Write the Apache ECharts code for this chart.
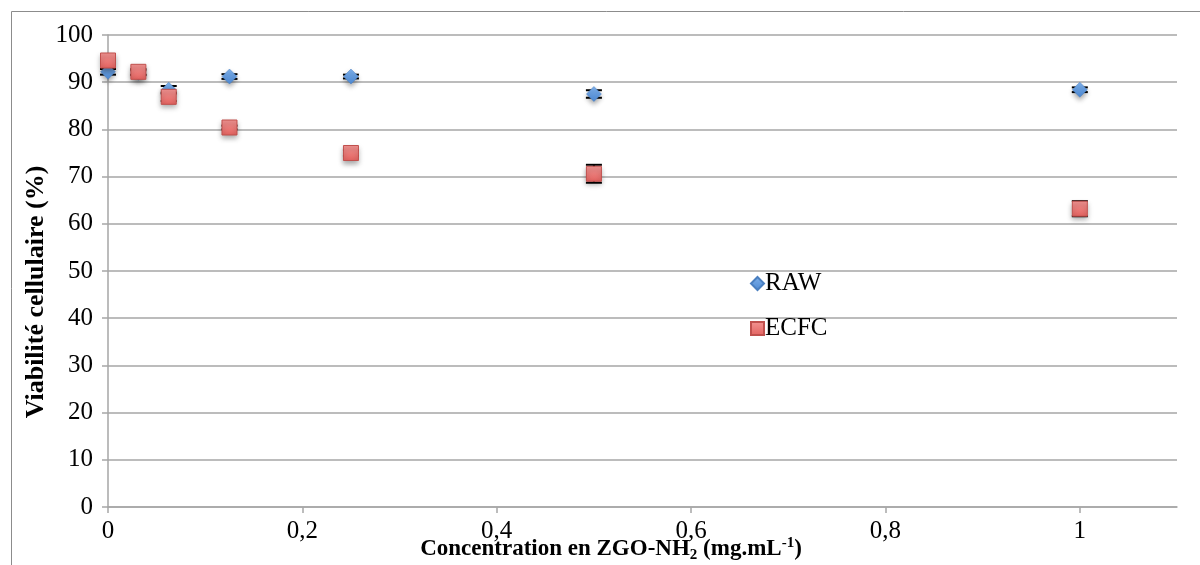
<!DOCTYPE html>
<html>
<head>
<meta charset="utf-8">
<script src="https://cdn.jsdelivr.net/npm/echarts@6/dist/echarts.min.js"></script>
<style>
html,body{margin:0;padding:0;background:#fff;}
#chart{width:1200px;height:565px;}
</style>
</head>
<body>
<div id="chart"></div>
<script>
const concentrations = [0, 0.03125, 0.0625, 0.125, 0.25, 0.5, 1];
const rawValues = [92.2, 92.0, 88.4, 91.2, 91.2, 87.5, 88.4];
const rawErrors = [0.6, 0.5, 0.8, 0.5, 0.4, 0.8, 0.5];
const ecfcValues = [94.6, 92.2, 86.9, 80.4, 75.0, 70.6, 63.2];
const ecfcErrors = [0.8, 0.6, 0.9, 0.4, 0.6, 1.9, 1.6];
const seriesNames = ['RAW', 'ECFC'];
const yTitle = 'Viabilité cellulaire (%)';

const FONT = '"Liberation Serif", "Times New Roman", serif';

function pairs(xs, ys) { return xs.map((x, i) => [x, ys[i]]); }
function errData(xs, ys, es) { return xs.map((x, i) => [x, ys[i] - es[i], ys[i] + es[i]]); }

function errRender(params, api) {
  const x = api.value(0);
  const lo = api.coord([x, api.value(1)]);
  const hi = api.coord([x, api.value(2)]);
  const hw = 8;
  const st = { stroke: '#000', lineWidth: 2 };
  return {
    type: 'group',
    children: [
      { type: 'line', shape: { x1: lo[0], y1: lo[1], x2: hi[0], y2: hi[1] }, style: st },
      { type: 'line', shape: { x1: lo[0] - hw, y1: lo[1], x2: lo[0] + hw, y2: lo[1] }, style: st },
      { type: 'line', shape: { x1: hi[0] - hw, y1: hi[1], x2: hi[0] + hw, y2: hi[1] }, style: st }
    ]
  };
}

const blueFill = new echarts.graphic.LinearGradient(0, 0, 0, 1, [
  { offset: 0, color: '#7eb0ea' }, { offset: 1, color: '#4c88d2' }]);
const redFill = new echarts.graphic.LinearGradient(0, 0, 0, 1, [
  { offset: 0, color: '#f39593' }, { offset: 1, color: '#e2625f' }]);

const chart = echarts.init(document.getElementById('chart'), null, { renderer: 'canvas' });
chart.setOption({
  animation: false,
  backgroundColor: '#fff',
  textStyle: { fontFamily: FONT },
  grid: { left: 108, right: 23, top: 35, bottom: 58, containLabel: false },
  graphic: [
    { type: 'rect', shape: { x: 11.5, y: 11.5, width: 1300, height: 700 },
      style: { fill: 'none', stroke: '#8c8c8c', lineWidth: 1 }, z: -1 },
    { type: 'text', x: 611, y: 549,
      style: {
        text: '{b|Concentration en ZGO-NH}{s|2}{b| (mg.mL}{p|-1}{b|)}',
        align: 'center', verticalAlign: 'middle',
        rich: {
          b: { fontFamily: FONT, fontWeight: 'bold', fontSize: 23, fill: '#000', lineHeight: 26 },
          s: { fontFamily: FONT, fontWeight: 'bold', fontSize: 15, fill: '#000', padding: [13, 0, 0, 0], lineHeight: 26 },
          p: { fontFamily: FONT, fontWeight: 'bold', fontSize: 15, fill: '#000', padding: [0, 0, 11, 0], lineHeight: 26 }
        }
      }, z: 10 },
    { type: 'text', x: 36, y: 292, rotation: Math.PI / 2,
      style: {
        text: yTitle, align: 'center', verticalAlign: 'middle',
        fontFamily: FONT, fontWeight: 'bold', fontSize: 26, fill: '#000'
      }, z: 10 }
  ],
  legend: {
    orient: 'vertical', left: 745, top: 266, itemGap: 20,
    itemWidth: 13, itemHeight: 13,
    data: [
      { name: seriesNames[0], icon: 'diamond' },
      { name: seriesNames[1], icon: 'rect' }
    ],
    textStyle: { fontFamily: FONT, fontSize: 25, color: '#000', padding: [0, 0, 0, -4] }
  },
  xAxis: {
    type: 'value', min: 0, max: 1.1, interval: 0.2,
    axisLine: { show: true, lineStyle: { color: '#a6a6a6', width: 1.5 } },
    axisTick: { show: true, length: 6, lineStyle: { color: '#a6a6a6', width: 1.5 } },
    splitLine: { show: false },
    axisLabel: {
      fontFamily: FONT, fontSize: 25, color: '#000', margin: 12, showMaxLabel: false,
      formatter: v => String(Math.round(v * 10) / 10).replace('.', ',')
    }
  },
  yAxis: {
    type: 'value', min: 0, max: 100, interval: 10,
    axisLine: { show: true, lineStyle: { color: '#a6a6a6', width: 1.5 } },
    axisTick: { show: true, length: 6, lineStyle: { color: '#a6a6a6', width: 1.5 } },
    splitLine: { show: true, lineStyle: { color: '#a6a6a6', width: 1.5 } },
    axisLabel: { fontFamily: FONT, fontSize: 25, color: '#000', margin: 15 }
  },
  series: [
    { name: seriesNames[0] + '_err', type: 'custom', renderItem: errRender,
      data: errData(concentrations, rawValues, rawErrors), z: 2, silent: true },
    { name: seriesNames[1] + '_err', type: 'custom', renderItem: errRender,
      data: errData(concentrations, ecfcValues, ecfcErrors), z: 2, silent: true },
    { name: seriesNames[0], type: 'scatter', symbol: 'diamond', symbolSize: 15,
      data: pairs(concentrations, rawValues), z: 3,
      itemStyle: { opacity: 1, color: blueFill, borderColor: '#4a7fc0', borderWidth: 0.5,
        shadowColor: 'rgba(0,0,0,0.35)', shadowBlur: 5, shadowOffsetY: 3 } },
    { name: seriesNames[1], type: 'scatter', symbol: 'rect', symbolSize: 15,
      data: pairs(concentrations, ecfcValues), z: 4,
      itemStyle: { opacity: 1, color: redFill, borderColor: '#c0504d', borderWidth: 1,
        shadowColor: 'rgba(0,0,0,0.35)', shadowBlur: 5, shadowOffsetY: 3 } }
  ]
});
</script>
</body>
</html>
